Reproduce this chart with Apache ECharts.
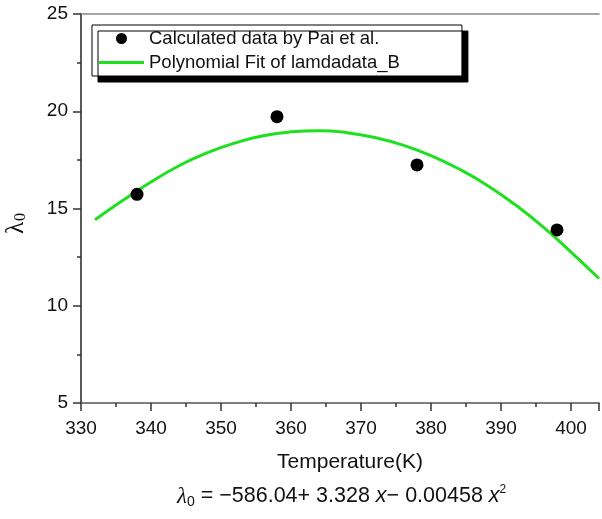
<!DOCTYPE html>
<html>
<head>
<meta charset="utf-8">
<script src="https://cdn.jsdelivr.net/npm/echarts@6/dist/echarts.min.js"></script>
<style>
html,body{margin:0;padding:0;background:#fff;}
#chart{width:602px;height:519px;}
</style>
</head>
<body>
<div id="chart"></div>
<script>
// Calculated data points (Temperature K, lambda_0)
const tempK = [338, 358, 378, 398];
const lambdaCalc = [15.73, 19.72, 17.24, 13.9];
// Polynomial fit curve
const fitT = [332, 336, 340, 344, 348, 352, 356, 360, 364, 368, 372, 376, 380, 384, 388, 392, 396, 400, 404];
const fitLambda = [14.42, 15.42, 16.36, 17.2, 17.86, 18.37, 18.74, 18.94, 19.0, 18.9, 18.65, 18.26, 17.72, 17.03, 16.2, 15.2, 14.06, 12.76, 11.4];
const seriesNames = ['Calculated data by Pai et al.', 'Polynomial Fit of lamdadata_B'];

const chart = echarts.init(document.getElementById('chart'));
const font = 'Liberation Sans, Arial, Helvetica, sans-serif';
chart.setOption({
  animation: false,
  backgroundColor: '#fff',
  grid: { left: 81, right: 3, top: 14, bottom: 116, containLabel: false, outerBoundsMode: 'none' },
  legend: {
    orient: 'vertical',
    left: 92, top: 25,
    data: [
      { name: seriesNames[0], icon: 'circle' },
      { name: seriesNames[1], icon: 'path://M0,0 L45,0 L45,3 L0,3 Z' }
    ],
    itemWidth: 45, itemHeight: 11, itemGap: 5,
    padding: [4, 62, 4, 7],
    borderColor: '#000', borderWidth: 1,
    backgroundColor: '#fff',
    shadowColor: '#000', shadowBlur: 0, shadowOffsetX: 6, shadowOffsetY: 6,
    borderRadius: 0,
    textStyle: { fontFamily: font, fontSize: 18.5, color: '#111' }
  },
  xAxis: [{
    type: 'value', min: 330, max: 404, interval: 10,
    position: 'bottom',
    name: 'Temperature(K)', nameLocation: 'middle', nameGap: 49,
    nameTextStyle: { fontFamily: font, fontSize: 21, color: '#111', padding: [0, 0, 0, 20] },
    axisLine: { show: true, onZero: false, lineStyle: { color: '#555', width: 1.5 } },
    axisTick: { show: true, length: 8, lineStyle: { color: '#333', width: 1.5 } },
    minorTick: { show: true, splitNumber: 2, length: 4, lineStyle: { color: '#333', width: 1.5 } },
    axisLabel: { fontFamily: font, fontSize: 19, color: '#111', margin: 16,
      formatter: v => (v % 10 === 0 && v <= 400) ? String(v) : '' },
    splitLine: { show: false }
  }, {
    type: 'value', min: 330, max: 404, position: 'top',
    axisLine: { show: true, onZero: false, lineStyle: { color: '#888', width: 1.5 } },
    axisTick: { show: false }, axisLabel: { show: false }, splitLine: { show: false }
  }],
  yAxis: {
    type: 'value', min: 5, max: 25, interval: 5,
    name: '{l|λ}{s|0}', nameLocation: 'middle', nameGap: 52, nameRotate: 90,
    nameTextStyle: {
      padding: [0, 30, 0, 0],
      rich: {
        l: { fontFamily: 'Liberation Serif, DejaVu Serif, serif', fontSize: 25, color: '#111' },
        s: { fontFamily: 'Liberation Serif, DejaVu Serif, serif', fontSize: 16, color: '#111', padding: [0, 0, -8, 1] }
      }
    },
    axisLine: { show: true, onZero: false, lineStyle: { color: '#222', width: 1.5 } },
    axisTick: { show: true, length: 8, lineStyle: { color: '#333', width: 1.5 } },
    minorTick: { show: true, splitNumber: 2, length: 4, lineStyle: { color: '#333', width: 1.5 } },
    axisLabel: { fontFamily: font, fontSize: 19, color: '#111', margin: 13 },
    splitLine: { show: false }
  },
  graphic: [{
    type: 'text', left: 177, top: 484, z: 10,
    style: {
      text: '{l|λ}{s|0}{n| = −586.04+ 3.328 }{i|x}{n|− 0.00458 }{i|x}{p|2}',
      rich: {
        l: { fontFamily: 'Liberation Serif, serif', fontStyle: 'italic', fontSize: 23, fill: '#111' },
        s: { fontFamily: font, fontSize: 14, fill: '#111', padding: [11, 0, 0, 0] },
        n: { fontFamily: font, fontSize: 21.5, fill: '#111' },
        i: { fontFamily: font, fontStyle: 'italic', fontSize: 21.5, fill: '#111' },
        p: { fontFamily: font, fontSize: 12, fill: '#111', padding: [0, 0, 13, 0] }
      }
    }
  }],
  series: [{
    name: seriesNames[0], type: 'scatter', z: 5,
    symbol: 'circle', symbolSize: 13,
    itemStyle: { color: '#000', opacity: 1 },
    data: tempK.map((t, i) => [t, lambdaCalc[i]])
  }, {
    name: seriesNames[1], type: 'line', z: 3,
    smooth: true, symbol: 'none', showSymbol: false,
    lineStyle: { color: '#1fe01f', width: 3 },
    itemStyle: { color: '#1fe01f' },
    data: fitT.map((t, i) => [t, fitLambda[i]])
  }]
});
</script>
</body>
</html>
